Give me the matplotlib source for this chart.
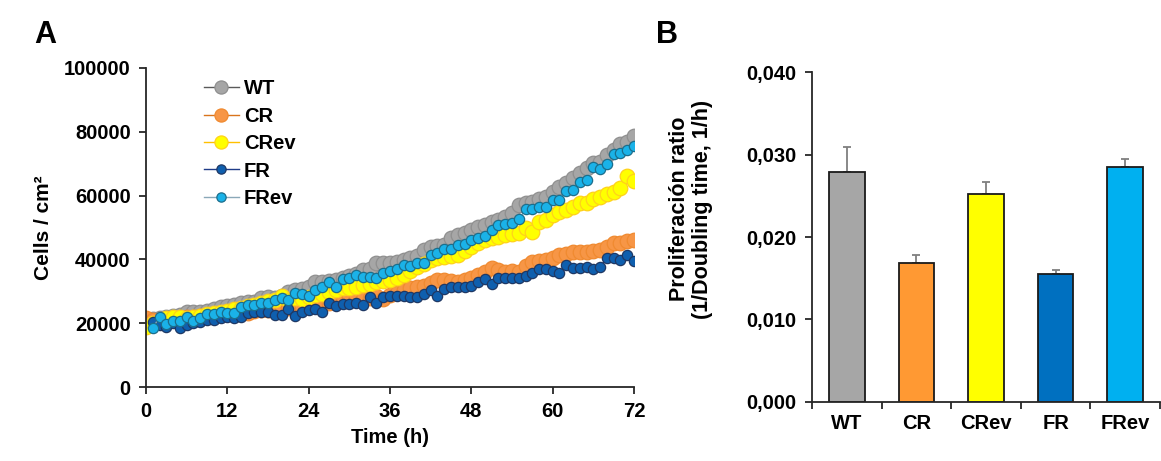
import numpy as np
import matplotlib
matplotlib.use('Agg')
import matplotlib.pyplot as plt
from matplotlib.ticker import FuncFormatter, FixedLocator

plt.rcParams['font.family'] = ['Liberation Sans', 'DejaVu Sans']
plt.rcParams['font.weight'] = 'bold'

# ---- panel A: growth curves (cells / cm2, one reading per hour) ----
hours_ctrl = np.arange(0, 73)   # WT, CR, CRev
hours_f = np.arange(1, 73)      # FR, FRev

wt = [21000, 21200, 21600, 22000, 22300, 22700, 23500, 23600, 23500, 23900,
      24400, 25000, 25300, 25700, 26400, 26500, 26600, 28000, 28100, 28000,
      28600, 29800, 30300, 30600, 31200, 32800, 33000, 33200, 33600, 34300,
      34800, 35500, 36700, 36900, 38800, 38900, 38800, 39300, 39700, 40400,
      41200, 42900, 44000, 44200, 44600, 46600, 47700, 48200, 49200, 50300,
      50800, 51800, 52400, 53400, 54500, 57100, 57600, 58100, 58800, 59700,
      61200, 62800, 64100, 65400, 67000, 68600, 70100, 70600, 72700, 74300,
      76200, 76900, 78600]

cr = [21500, 21000, 20700, 21200, 21500, 21700, 21900, 22100, 22300, 22500,
      22700, 22900, 23100, 23400, 23600, 23300, 23700, 24000, 24200, 24500,
      24700, 24900, 25000, 25200, 25400, 25700, 25900, 26200, 26500, 26900,
      28000, 28300, 27700, 28000, 28400, 27500, 28800, 29600, 30400, 31000,
      31400, 31800, 32500, 33500, 33600, 33300, 33000, 33400, 34200, 35000,
      36000, 37200, 36700, 36100, 36300, 36200, 37800, 39300, 39600, 39800,
      40400, 41400, 41800, 42400, 42300, 42400, 42600, 43000, 43800, 45000,
      45200, 45900, 46100]

crev = [18800, 20000, 20800, 21500, 21900, 22100, 21600, 22000, 22400, 22900,
        23200, 23500, 23800, 24300, 24800, 25300, 25800, 26400, 27000, 27400,
        28500, 27300, 27900, 27600, 28200, 28700, 29300, 29900, 30400, 30900,
        31100, 31500, 32000, 32400, 32900, 33200, 33500, 34300, 35100, 36400,
        37700, 38700, 39800, 40400, 40900, 41200, 41400, 42700, 44000, 45000,
        46100, 46600, 47100, 47500, 47900, 48200, 49700, 48700, 51800, 52500,
        53900, 55000, 55400, 56500, 57600, 57800, 59000, 59700, 60500, 61200,
        62300, 66100, 64600]

fr = [20400, 19400, 18900, 20000, 18400, 19400, 20000, 20500, 21000, 21000,
      21500, 22000, 21500, 22000, 23100, 23400, 23400, 23400, 22600, 22600,
      24300, 22400, 23400, 24100, 24500, 23600, 26400, 25400, 26000, 26000,
      26300, 25700, 28200, 26300, 28200, 28600, 28600, 28600, 28200, 28200,
      29200, 30300, 28600, 30800, 31300, 31300, 31300, 31600, 33000, 34000,
      32300, 34100, 34100, 34100, 34100, 34800, 35800, 37000, 37000, 36500,
      35800, 38200, 37300, 37400, 37700, 37000, 37700, 40400, 40400, 39800,
      41400, 39600]

frev = [18500, 22000, 19700, 20800, 20800, 22000, 20800, 21500, 22900, 22900,
        23600, 23300, 23300, 25200, 25700, 25700, 26200, 26400, 27300, 27800,
        27300, 29400, 29200, 28600, 30400, 31400, 33000, 31400, 33800, 34100,
        35100, 34400, 34400, 34100, 35600, 36500, 37000, 38200, 38000, 39000,
        39000, 41400, 41900, 43200, 43200, 44500, 44700, 46100, 46600, 47300,
        49200, 50800, 51000, 51300, 52600, 55700, 55700, 56300, 56300, 58600,
        58600, 61500, 61800, 64400, 64900, 69000, 68200, 69900, 72900, 73200,
        74300, 75500]

# ---- panel B: proliferation ratio ----
strains = ['WT', 'CR', 'CRev', 'FR', 'FRev']
ratio = [0.0279, 0.0168, 0.0252, 0.0155, 0.0285]
ratio_err = [0.0030, 0.0010, 0.0015, 0.0005, 0.0009]
bar_colors = ['#A6A6A6', '#FF9933', '#FFFF00', '#0070C0', '#00B0F0']

fig = plt.figure(figsize=(11.61, 4.61), dpi=100)

FS = 14.5
axA = fig.add_axes([0.1258, 0.1605, 0.4203, 0.692])

series = [
    ('WT', hours_ctrl, wt, '#A6A6A6', '#8F8F8F', '#5A5A5A', 10.5),
    ('CR', hours_ctrl, cr, '#F79646', '#F08A30', '#D9741C', 10.5),
    ('CRev', hours_ctrl, crev, '#FFFF00', '#FFD21A', '#FFC000', 10.5),
    ('FR', hours_f, fr, '#0F5FAE', '#1F3864', '#1F3C88', 7.4),
    ('FRev', hours_f, frev, '#1AB2E8', '#1C6E8C', '#8AA8B8', 7.4),
]
for name, t, v, fc, ec, lc, ms in series:
    axA.plot(t, v, '-o', color=lc, lw=1.0, markerfacecolor=fc,
             markeredgecolor=ec, markeredgewidth=0.9, markersize=ms,
             label=name)

axA.set_xlim(0, 72)
axA.set_ylim(0, 100000)
axA.set_xticks(range(0, 73, 12))
axA.set_yticks(range(0, 100001, 20000))
for s in ['top', 'right']:
    axA.spines[s].set_visible(False)
for s in ['left', 'bottom']:
    axA.spines[s].set_color('#262626')
    axA.spines[s].set_linewidth(1.3)
axA.tick_params(direction='out', length=5, width=1.3, color='#262626',
                labelsize=FS, pad=6)
for lab in axA.get_xticklabels() + axA.get_yticklabels():
    lab.set_fontweight('bold')
axA.set_xlabel('Time (h)', fontsize=FS, fontweight='bold', labelpad=5)
axA.set_ylabel('Cells / cm²', fontsize=15, fontweight='bold')
axA.yaxis.set_label_coords(-0.19, 0.5)

leg = axA.legend(loc='upper left', bbox_to_anchor=(0.118, 0.965), frameon=False,
                 fontsize=FS, handlelength=1.75, handletextpad=0.25,
                 labelspacing=0.42, borderpad=0, borderaxespad=0,
                 markerscale=0.9)
for txt in leg.get_texts():
    txt.set_fontweight('bold')

# ---- panel B ----
axB = fig.add_axes([0.6994, 0.128, 0.2997, 0.7158])
x = np.arange(len(strains))
axB.bar(x, ratio, width=0.51, color=bar_colors, edgecolor='#1A1A1A',
        linewidth=1.3, zorder=2)
axB.errorbar(x, ratio, yerr=[np.zeros(len(ratio)), ratio_err], fmt='none',
             ecolor='#7F7F7F', elinewidth=1.3, capsize=3, capthick=1.3,
             zorder=1)
axB.set_xlim(-0.5, 4.5)
axB.set_ylim(0, 0.040)
axB.set_yticks([0, 0.01, 0.02, 0.03, 0.04])
axB.yaxis.set_major_formatter(FuncFormatter(lambda v, p: f'{v:.3f}'.replace('.', ',')))
axB.set_xticks(x)
axB.set_xticklabels(strains)
axB.xaxis.set_minor_locator(FixedLocator([-0.5, 0.5, 1.5, 2.5, 3.5, 4.5]))
axB.tick_params(axis='x', which='major', length=0, labelsize=FS, pad=9)
axB.tick_params(axis='x', which='minor', direction='out', length=5, width=1.3,
                color='#262626')
axB.tick_params(axis='y', direction='out', length=5, width=1.3,
                color='#262626', labelsize=FS, pad=6)
for lab in axB.get_xticklabels() + axB.get_yticklabels():
    lab.set_fontweight('bold')
for s in ['top', 'right']:
    axB.spines[s].set_visible(False)
for s in ['left', 'bottom']:
    axB.spines[s].set_color('#262626')
    axB.spines[s].set_linewidth(1.3)
axB.set_ylabel('Proliferación ratio\n(1/Doubling time, 1/h)', fontsize=15.5,
               fontweight='bold', linespacing=1.1)
axB.yaxis.set_label_coords(-0.285, 0.585)

fig.text(45 / 1161, 1 - 35 / 461, 'A', fontsize=22, fontweight='bold',
         ha='center', va='center')
fig.text(667 / 1161, 1 - 35 / 461, 'B', fontsize=22, fontweight='bold',
         ha='center', va='center')

fig.savefig('out.png', dpi=100)
